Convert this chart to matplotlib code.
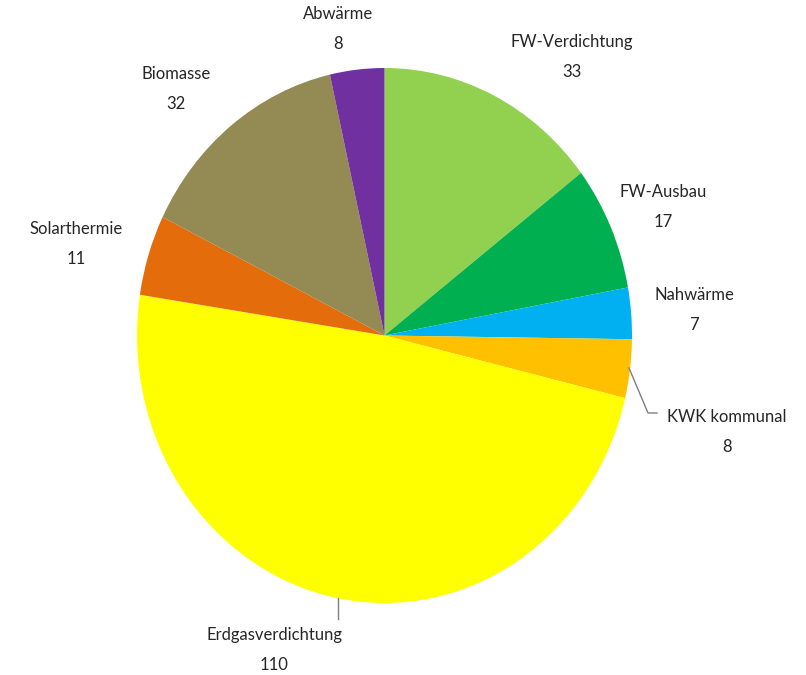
import matplotlib
matplotlib.use("Agg")
import matplotlib.pyplot as plt

# -- Heat supply options (clockwise from 12 o'clock)
labels = ["FW-Verdichtung", "FW-Ausbau", "Nahwärme", "KWK kommunal",
          "Erdgasverdichtung", "Solarthermie", "Biomasse", "Abwärme"]
values = [33, 17, 7, 8, 110, 11, 32, 8]
colors = ["#92D050", "#00B050", "#00B0F0", "#FFC000",
          "#FFFF00", "#E46C0A", "#948A54", "#7030A0"]

# -- Label centres in pixel coordinates of the 806x675 canvas
label_px = [(572, 57), (663, 207), (694, 310), (727, 432),
            (274, 650), (76, 244), (176, 89), (338, 29)]

W, H = 806, 675
cx, cy = 384.5, 335.5      # pie centre (px)
rx, ry = 247.5, 267.5      # pie semi-axes (px), slightly taller than wide

plt.rcParams['font.family'] = ['Lato', 'DejaVu Sans']

fig = plt.figure(figsize=(W / 100, H / 100), dpi=100)
ax = fig.add_axes([0, 0, 1, 1])

ax.pie(values, colors=colors, startangle=90, counterclock=False,
       radius=1, center=(0, 0), wedgeprops=dict(linewidth=0))

# -- Stretch unit circle into the ellipse by choosing the limits
ax.set_aspect('auto')
ax.set_xlim(-cx / rx, (W - cx) / rx)
ax.set_ylim(-(H - cy) / ry, cy / ry)
ax.axis('off')


def px2data(px, py):
    return (px - cx) / rx, (cy - py) / ry


for lab, val, (px, py) in zip(labels, values, label_px):
    x, y = px2data(px, py)
    ax.text(x, y, "%s\n%d" % (lab, val), ha='center', va='center',
            fontsize=12, color='#262626', linespacing=2.15)

# -- Leader lines for the two labels that sit away from their slices
kwk = [px2data(629, 368), px2data(648, 413), px2data(657, 413)]
ax.plot([p[0] for p in kwk], [p[1] for p in kwk], color='#7f7f7f', lw=1)
erd = [px2data(338, 598), px2data(338, 619)]
ax.plot([p[0] for p in erd], [p[1] for p in erd], color='#7f7f7f', lw=1)

fig.savefig("out.png", dpi=100)
